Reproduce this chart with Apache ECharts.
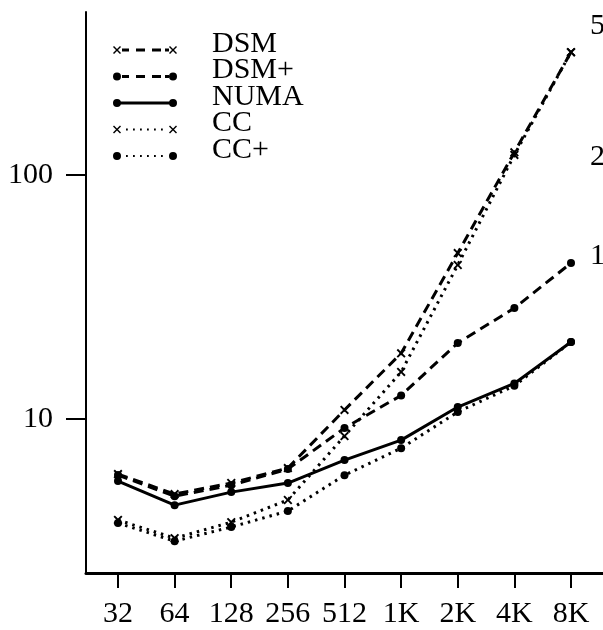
<!DOCTYPE html>
<html>
<head>
<meta charset="utf-8">
<script src="https://cdn.jsdelivr.net/npm/echarts@6/dist/echarts.min.js"></script>
<style>html,body{margin:0;padding:0;background:#fff;}#c{width:603px;height:630px;}</style>
</head>
<body>
<div id="c"></div>
<script>
// ---- data ----
var categories = ['32', '64', '128', '256', '512', '1K', '2K', '4K', '8K'];
var dsm     = [5.95, 4.93, 5.47, 6.30, 10.9, 18.6, 47.9, 124, 319];
var dsmPlus = [5.9, 4.83, 5.36, 6.24, 9.19, 12.5, 20.5, 28.5, 43.6];
var numa    = [5.57, 4.44, 5.02, 5.47, 6.79, 8.2, 11.2, 14.0, 20.7];
var cc      = [3.86, 3.25, 3.78, 4.66, 8.52, 15.6, 42.8, 121, 319];
var ccPlus  = [3.75, 3.16, 3.61, 4.2, 5.89, 7.6, 10.7, 13.7, 20.7];
var yTicks = [10, 100];
var rightTickValues = [1, 2, 5];
var rightTickLabels = ['1', '2', '5'];

var FONT = "'Liberation Serif', serif";
var xIdx = categories.map(function (c, i) { return i; });
function pairs(arr) { return arr.map(function (v, i) { return [i, v]; }); }

var X_SYM = 'path://M0,1.5L1.5,0L5,3.5L8.5,0L10,1.5L6.5,5L10,8.5L8.5,10L5,6.5L1.5,10L0,8.5L3.5,5Z';

// legend icons (64 x 20 box, marks centred at y=16 so the label sits a little higher)
var CY = 16;
function xMark(cx) {
  var a = cx - 4, t = CY - 4;
  return 'M' + a + ',' + (t + 1) + 'L' + (a + 1) + ',' + t + 'L' + (a + 4) + ',' + (t + 3) + 'L' + (a + 7) + ',' + t +
    'L' + (a + 8) + ',' + (t + 1) + 'L' + (a + 5) + ',' + (t + 4) + 'L' + (a + 8) + ',' + (t + 7) + 'L' + (a + 7) + ',' + (t + 8) +
    'L' + (a + 4) + ',' + (t + 5) + 'L' + (a + 1) + ',' + (t + 8) + 'L' + a + ',' + (t + 7) + 'L' + (a + 3) + ',' + (t + 4) + 'Z';
}
function dot(cx) { return 'M' + (cx - 4) + ',' + CY + 'A4,4 0 1 1 ' + (cx + 4) + ',' + CY + 'A4,4 0 1 1 ' + (cx - 4) + ',' + CY + 'Z'; }
function rect(x0, x1, h) { return 'M' + x0 + ',' + (CY - h) + 'L' + x1 + ',' + (CY - h) + 'L' + x1 + ',' + (CY + h) + 'L' + x0 + ',' + (CY + h) + 'Z'; }
var frame = 'M0,0L0.01,0L0,0.01ZM64,20L63.99,20L64,19.99Z';
function dashes() { return rect(9, 16, 1.4) + rect(23, 32, 1.4) + rect(39, 48, 1.4) + rect(52, 56, 1.4); }
function dots() { var s = ''; [13, 20, 27, 34, 41, 48].forEach(function (x) { s += rect(x, x + 1.8, 0.9); }); return s; }
var legendIcons = {
  'DSM':  'path://' + frame + xMark(4) + dashes() + xMark(60),
  'DSM+': 'path://' + frame + dot(4) + dashes() + dot(60),
  'NUMA': 'path://' + frame + dot(4) + rect(4, 60, 1.6) + dot(60),
  'CC':   'path://' + frame + xMark(4) + dots() + xMark(60),
  'CC+':  'path://' + frame + dot(4) + dots() + dot(60)
};

function mkSeries(name, arr, sym, dash, size) {
  return {
    name: name, type: 'line', data: pairs(arr),
    symbol: sym, symbolSize: size, showSymbol: true,
    itemStyle: { color: '#000' },
    lineStyle: { color: '#000', width: 3, type: dash },
    emphasis: { disabled: true }
  };
}

var chart = echarts.init(document.getElementById('c'), null, { renderer: 'canvas' });
chart.setOption({
  animation: false,
  backgroundColor: '#fff',
  grid: { left: 86, right: 0, top: 12, bottom: 57, containLabel: false, outerBoundsMode: 'none' },
  legend: {
    orient: 'vertical', left: 113, top: 29, padding: 0,
    itemWidth: 64, itemHeight: 20, itemGap: -3.5,
    symbolKeepAspect: false,
    selectedMode: false,
    textStyle: { fontFamily: FONT, fontSize: 30, color: '#000', lineHeight: 30, padding: [0, 0, 0, 30] },
    data: ['DSM', 'DSM+', 'NUMA', 'CC', 'CC+'].map(function (n) { return { name: n, icon: legendIcons[n] }; })
  },
  xAxis: {
    type: 'value', min: -0.565, max: 8.565,
    axisLine: { show: true, onZero: false, lineStyle: { color: '#000', width: 3 } },
    axisTick: { show: true, length: 15, lineStyle: { color: '#000', width: 2 }, customValues: xIdx },
    axisLabel: { customValues: xIdx, margin: 26, fontFamily: FONT, fontSize: 30, color: '#000',
      formatter: function (v) { return categories[Math.round(v)]; } },
    splitLine: { show: false }
  },
  yAxis: [{
    type: 'log', logBase: 10, min: 2.34, max: 466,
    axisLine: { show: true, onZero: false, lineStyle: { color: '#000', width: 2 } },
    axisTick: { show: true, length: 20, lineStyle: { color: '#000', width: 2 }, customValues: yTicks },
    axisLabel: { customValues: yTicks, margin: 33, fontFamily: FONT, fontSize: 30, color: '#000',
      formatter: function (v) { return String(Math.round(v)); } },
    splitLine: { show: false }, minorTick: { show: false }
  }, {
    type: 'log', logBase: 10, min: 0.109, max: 5.51, position: 'right', offset: -13,
    axisLine: { show: false, onZero: false }, axisTick: { show: false }, splitLine: { show: false },
    axisLabel: { customValues: rightTickValues, margin: 0, fontFamily: FONT, fontSize: 30, color: '#000',
      formatter: function (v) { var i = rightTickValues.indexOf(Math.round(v)); return i >= 0 ? rightTickLabels[i] : ''; } }
  }],
  series: [
    mkSeries('DSM', dsm, X_SYM, [10, 6], 9),
    mkSeries('DSM+', dsmPlus, 'circle', [10, 6], 8),
    mkSeries('NUMA', numa, 'circle', 'solid', 8),
    mkSeries('CC', cc, X_SYM, [2.5, 5], 9),
    mkSeries('CC+', ccPlus, 'circle', [2.5, 5], 8)
  ]
});
</script>
</body>
</html>
